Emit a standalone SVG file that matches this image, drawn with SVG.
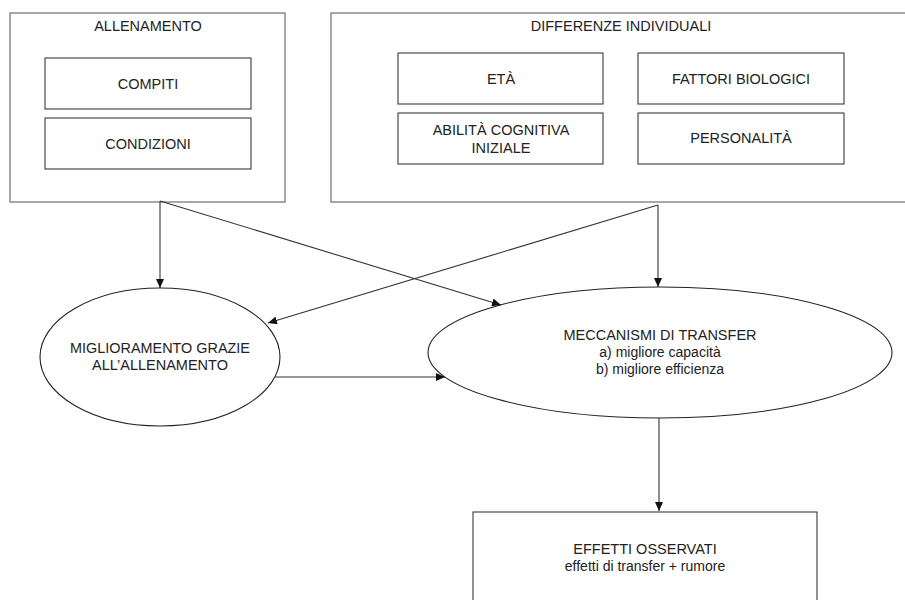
<svg xmlns="http://www.w3.org/2000/svg" width="905" height="600" viewBox="0 0 905 600">
<defs>
<style>
.outer{fill:#fff;stroke:#7a7a7a;stroke-width:1.3}
.inner{fill:#fff;stroke:#3a3a3a;stroke-width:1.1}
.ell{fill:#fff;stroke:#222;stroke-width:1.1}
.conn line{stroke:#333;stroke-width:1.1;marker-end:url(#arr)}
text{font-family:"Liberation Sans",Arial,sans-serif;font-size:14.5px;fill:#222;text-anchor:middle}
text.lc{font-size:14px}
</style>
<marker id="arr" markerUnits="userSpaceOnUse" markerWidth="10" markerHeight="8" refX="9" refY="4" orient="auto">
<path d="M0,0 L9,4 L0,8 Z" fill="#111"/>
</marker>
</defs>
<rect width="905" height="600" fill="#fff"/>
<g id="allenamento">
<rect class="outer" x="10" y="13" width="275" height="189"/>
<text x="148" y="31">ALLENAMENTO</text>
</g>
<g id="compiti">
<rect class="inner" x="45" y="58" width="206" height="51"/>
<text x="148" y="89">COMPITI</text>
</g>
<g id="condizioni">
<rect class="inner" x="45" y="118" width="206" height="51"/>
<text x="148" y="149">CONDIZIONI</text>
</g>
<g id="differenze">
<rect class="outer" x="331" y="13" width="590" height="189"/>
<text x="621" y="31">DIFFERENZE INDIVIDUALI</text>
</g>
<g id="eta">
<rect class="inner" x="398" y="53" width="205" height="51"/>
<text x="501" y="84">ETÀ</text>
</g>
<g id="fattori">
<rect class="inner" x="638" y="53" width="206" height="51"/>
<text x="741" y="84">FATTORI BIOLOGICI</text>
</g>
<g id="abilita">
<rect class="inner" x="398" y="113" width="205" height="51"/>
<text x="501" y="135">ABILITÀ COGNITIVA</text>
<text x="501" y="153">INIZIALE</text>
</g>
<g id="personalita">
<rect class="inner" x="638" y="113" width="206" height="51"/>
<text x="741" y="143">PERSONALITÀ</text>
</g>
<g id="miglioramento">
<ellipse class="ell" cx="160" cy="357" rx="120" ry="69"/>
<text x="160" y="353" textLength="180" lengthAdjust="spacingAndGlyphs">MIGLIORAMENTO GRAZIE</text>
<text x="160" y="370">ALL’ALLENAMENTO</text>
</g>
<g id="meccanismi">
<ellipse class="ell" cx="660" cy="352.5" rx="232" ry="65.5"/>
<text x="660" y="340">MECCANISMI DI TRANSFER</text>
<text class="lc" x="660" y="357">a) migliore capacità</text>
<text class="lc" x="660" y="374">b) migliore efficienza</text>
</g>
<g id="effetti">
<rect class="inner" x="473" y="512" width="344" height="100"/>
<text x="645" y="554">EFFETTI OSSERVATI</text>
<text class="lc" x="645" y="571">effetti di transfer + rumore</text>
</g>
<g id="connectors" class="conn">
<line x1="160" y1="201" x2="160" y2="288"/>
<line x1="160" y1="201" x2="501" y2="305"/>
<line x1="658" y1="205" x2="658" y2="287"/>
<line x1="658" y1="205" x2="268" y2="323"/>
<line x1="275" y1="377" x2="445" y2="377"/>
<line x1="659" y1="418" x2="659" y2="511"/>
</g>
</svg>
